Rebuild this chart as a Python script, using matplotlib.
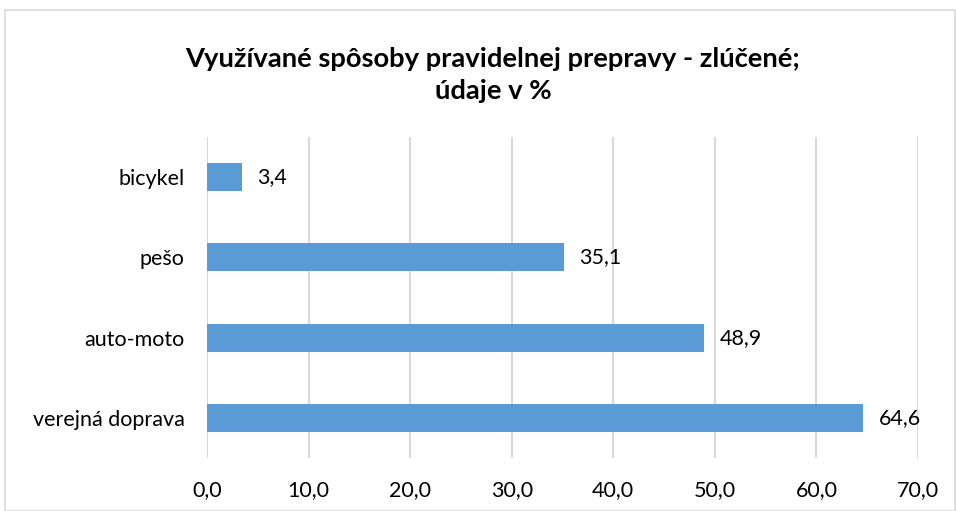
import matplotlib
matplotlib.use("Agg")
import matplotlib.pyplot as plt
from matplotlib.patches import Rectangle

categories = ["verejná doprava", "auto-moto", "pešo", "bicykel"]
values = [64.6, 48.9, 35.1, 3.4]
xticks = [0, 10, 20, 30, 40, 50, 60, 70]
title = "Využívané spôsoby pravidelnej prepravy - zlúčené;\núdaje v %"

plt.rcParams['font.family'] = ['Lato', 'DejaVu Sans']

W, H = 956, 511
fig = plt.figure(figsize=(W / 100, H / 100), dpi=100)
ax = fig.add_axes([207 / W, 1 - 458 / H, (918 - 207) / W, (458 - 137) / H])

bar_color = "#5B9BD5"
ypos = list(range(len(categories)))
ax.barh(ypos, values, height=0.35, color=bar_color, zorder=3)
for y, v in zip(ypos, values):
    ax.text(v + 1.55, y, f"{v:.1f}".replace(".", ","), va="center", ha="left",
            fontsize=15.5, color="#000000")

ax.set_xlim(0, 70)
ax.set_ylim(-0.5, len(categories) - 0.5)
ax.set_xticks(xticks)
ax.set_xticklabels([f"{t:.1f}".replace(".", ",") for t in xticks], fontsize=15.5)
ax.set_yticks(ypos)
ax.set_yticklabels(categories, fontsize=15.5)
ax.tick_params(axis="x", length=0, pad=16)
ax.tick_params(axis="y", length=0, pad=16)
ax.xaxis.grid(True, color="#D9D9D9", linewidth=1.5, zorder=0)
for s in ax.spines.values():
    s.set_visible(False)

fig.text(493 / W, 1 - 75 / H, title, ha="center", va="center", fontsize=19.7,
         fontweight="bold", linespacing=1.4)

fig.patches.append(Rectangle((5 / W, 0), (W - 5) / W - 1 / W, 1 - 10 / H,
                             transform=fig.transFigure, fill=False,
                             edgecolor="#D9D9D9", linewidth=1.2))

fig.savefig("out.png", dpi=100)
